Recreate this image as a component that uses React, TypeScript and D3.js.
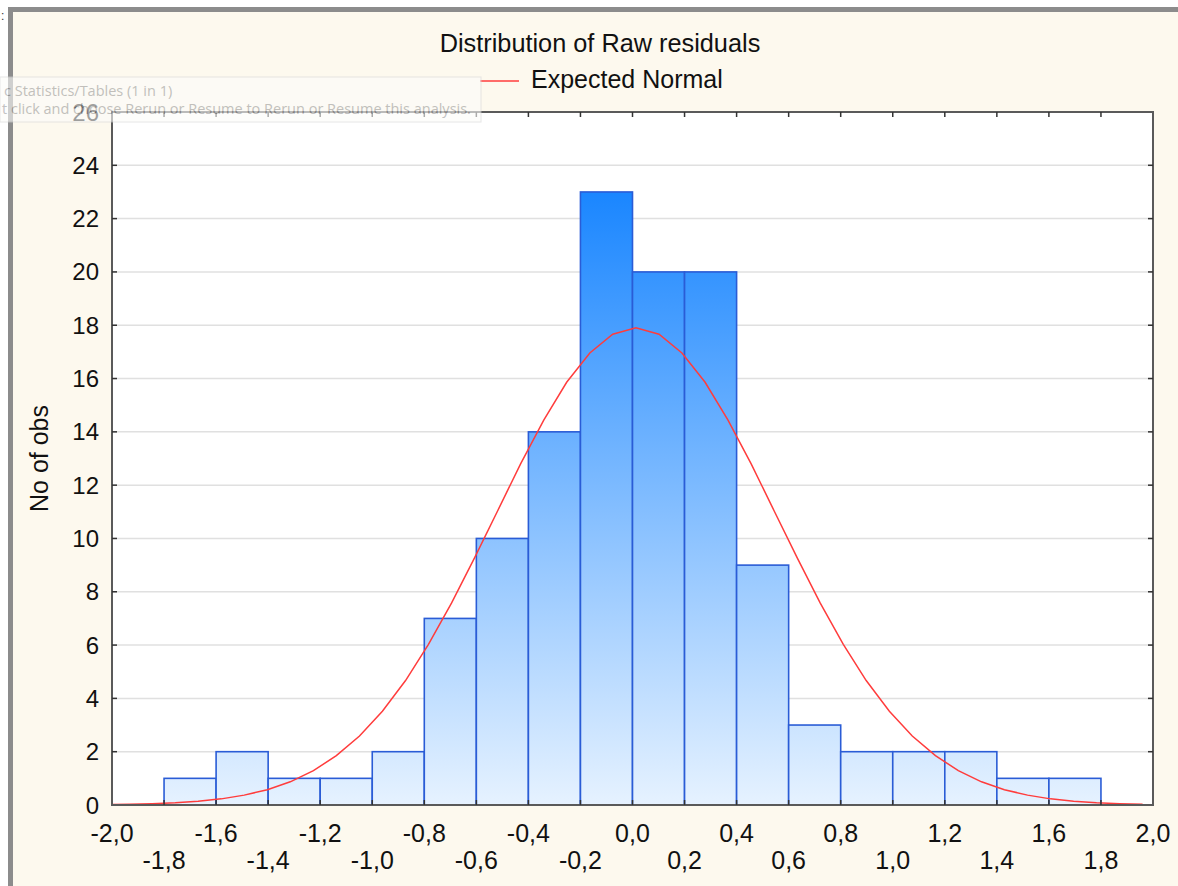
import React from "react";
import * as d3 from "d3";

// histogram bins (lower edge) and counts
const binStarts = [-1.8, -1.6, -1.4, -1.2, -1.0, -0.8, -0.6, -0.4, -0.2, 0.0, 0.2, 0.4, 0.6, 0.8, 1.0, 1.2, 1.4, 1.6];
const binCounts = [1, 2, 1, 1, 2, 7, 10, 14, 23, 20, 20, 9, 3, 2, 2, 2, 1, 1];
const binWidth = 0.2;

// expected normal curve
const normalX = [-2.0, -1.934, -1.846, -1.757, -1.669, -1.58, -1.492, -1.403, -1.315, -1.226, -1.138, -1.049, -0.961, -0.872, -0.784, -0.695, -0.607, -0.518, -0.43, -0.341, -0.253, -0.164, -0.076, 0.013, 0.102, 0.19, 0.279, 0.367, 0.456, 0.544, 0.633, 0.721, 0.81, 0.898, 0.987, 1.075, 1.164, 1.252, 1.341, 1.429, 1.518, 1.606, 1.695, 1.783, 1.872, 1.96];
const normalY = [0.015, 0.027, 0.048, 0.083, 0.14, 0.23, 0.37, 0.575, 0.87, 1.29, 1.85, 2.59, 3.52, 4.67, 6.03, 7.58, 9.27, 11.04, 12.8, 14.44, 15.86, 16.96, 17.66, 17.9, 17.66, 16.96, 15.86, 14.44, 12.8, 11.04, 9.27, 7.58, 6.03, 4.67, 3.52, 2.59, 1.85, 1.29, 0.87, 0.575, 0.37, 0.23, 0.14, 0.083, 0.048, 0.027];

const xTicks = [-2.0, -1.8, -1.6, -1.4, -1.2, -1.0, -0.8, -0.6, -0.4, -0.2, 0.0, 0.2, 0.4, 0.6, 0.8, 1.0, 1.2, 1.4, 1.6, 1.8, 2.0];
const yTicks = [0, 2, 4, 6, 8, 10, 12, 14, 16, 18, 20, 22, 24, 26];

const title = "Distribution of Raw residuals";
const legendLabel = "Expected Normal";
const yLabel = "No of obs";

export default function App() {
  const svgRef = React.useRef(null);
  const width = 1178;
  const height = 886;
  const margin = { left: 112, right: 25, top: 112, bottom: 81 };
  const font = "'Liberation Sans', Arial, sans-serif";

  React.useEffect(() => {
    const x = d3.scaleLinear().domain([-2, 2]).range([margin.left, width - margin.right]);
    const y = d3.scaleLinear().domain([0, 26]).range([height - margin.bottom, margin.top]);

    const svg = d3.select(svgRef.current);
    svg.selectAll("*").remove();

    // window background + frame
    svg.append("rect").attr("width", width).attr("height", height).attr("fill", "#ffffff");
    svg.append("rect").attr("x", 8).attr("y", 8).attr("width", width - 8).attr("height", height - 8).attr("fill", "#fdf9ee");
    svg.append("rect").attr("x", 8).attr("y", 7).attr("width", width - 8).attr("height", 5).attr("fill", "#8c8c8c");
    svg.append("rect").attr("x", 8).attr("y", 7).attr("width", 5).attr("height", height - 7).attr("fill", "#8c8c8c");
    svg.append("text").attr("x", 1).attr("y", 20).attr("font-family", font).attr("font-size", 12).attr("fill", "#333").text(":");

    const defs = svg.append("defs");
    const grad = defs.append("linearGradient")
      .attr("id", "barGrad")
      .attr("gradientUnits", "userSpaceOnUse")
      .attr("x1", 0).attr("x2", 0)
      .attr("y1", y(0)).attr("y2", y(23));
    grad.append("stop").attr("offset", "0%").attr("stop-color", "#e6f2ff");
    grad.append("stop").attr("offset", "100%").attr("stop-color", "#1a86ff");

    // plot area
    svg.append("rect")
      .attr("x", x(-2)).attr("y", y(26))
      .attr("width", x(2) - x(-2)).attr("height", y(0) - y(26))
      .attr("fill", "#ffffff");

    // grid
    svg.append("g")
      .selectAll("line")
      .data(yTicks.slice(1, -1))
      .enter()
      .append("line")
      .attr("x1", x(-2)).attr("x2", x(2))
      .attr("y1", d => y(d)).attr("y2", d => y(d))
      .attr("stroke", "#e0e0e0")
      .attr("stroke-width", 1.5);

    // bars
    svg.append("g")
      .selectAll("rect")
      .data(binStarts)
      .enter()
      .append("rect")
      .attr("x", d => x(d))
      .attr("y", (d, i) => y(binCounts[i]))
      .attr("width", d => x(d + binWidth) - x(d))
      .attr("height", (d, i) => y(0) - y(binCounts[i]))
      .attr("fill", "url(#barGrad)")
      .attr("stroke", "#2a5cd6")
      .attr("stroke-width", 1.6);

    // expected normal
    const line = d3.line()
      .x((d, i) => x(normalX[i]))
      .y(d => y(d));
    svg.append("path")
      .datum(normalY)
      .attr("d", line)
      .attr("fill", "none")
      .attr("stroke", "#ff3c3c")
      .attr("stroke-width", 1.5);

    // frame
    svg.append("rect")
      .attr("x", x(-2)).attr("y", y(26))
      .attr("width", x(2) - x(-2)).attr("height", y(0) - y(26))
      .attr("fill", "none")
      .attr("stroke", "#5a5a5a")
      .attr("stroke-width", 2);

    // inner ticks
    const ticks = svg.append("g").attr("stroke", "#333").attr("stroke-width", 1.5);
    xTicks.slice(1, -1).forEach(t => {
      ticks.append("line").attr("x1", x(t)).attr("x2", x(t)).attr("y1", y(0)).attr("y2", y(0) - 5);
      ticks.append("line").attr("x1", x(t)).attr("x2", x(t)).attr("y1", y(26)).attr("y2", y(26) + 5);
    });
    yTicks.slice(1, -1).forEach(t => {
      ticks.append("line").attr("x1", x(-2)).attr("x2", x(-2) + 5).attr("y1", y(t)).attr("y2", y(t));
      ticks.append("line").attr("x1", x(2)).attr("x2", x(2) - 5).attr("y1", y(t)).attr("y2", y(t));
    });

    // x labels, staggered in two rows
    svg.append("g")
      .selectAll("text")
      .data(xTicks)
      .enter()
      .append("text")
      .attr("x", d => x(d))
      .attr("y", (d, i) => (i % 2 === 0 ? 842 : 869))
      .attr("text-anchor", "middle")
      .attr("font-family", font)
      .attr("font-size", 25)
      .attr("fill", "#111")
      .text(d => d3.format(".1f")(d).replace("−", "-").replace(".", ","));

    // y labels
    svg.append("g")
      .selectAll("text")
      .data(yTicks)
      .enter()
      .append("text")
      .attr("x", x(-2) - 13)
      .attr("y", d => y(d) + 8.5)
      .attr("text-anchor", "end")
      .attr("font-family", font)
      .attr("font-size", 24)
      .attr("fill", "#111")
      .text(d => d);

    svg.append("text")
      .attr("transform", `translate(48, ${(y(0) + y(26)) / 2}) rotate(-90)`)
      .attr("text-anchor", "middle")
      .attr("font-family", font)
      .attr("font-size", 25)
      .attr("fill", "#111")
      .text(yLabel);

    // title + legend
    svg.append("text")
      .attr("x", 600).attr("y", 52)
      .attr("text-anchor", "middle")
      .attr("font-family", font)
      .attr("font-size", 25.3)
      .attr("fill", "#111")
      .text(title);
    svg.append("line")
      .attr("x1", 480).attr("x2", 519).attr("y1", 81).attr("y2", 81)
      .attr("stroke", "#ff3c3c").attr("stroke-width", 1.5);
    svg.append("text")
      .attr("x", 531).attr("y", 88)
      .attr("font-family", font)
      .attr("font-size", 25)
      .attr("fill", "#111")
      .text(legendLabel);

    // fading tooltip left over from the app
    const tip = svg.append("g").attr("opacity", 0.6);
    tip.append("rect")
      .attr("x", 0).attr("y", 77).attr("width", 481).attr("height", 45)
      .attr("fill", "#fcfcfa").attr("stroke", "#d8d8d8");
    tip.append("text")
      .attr("x", 4).attr("y", 96)
      .attr("font-family", "'Open Sans', sans-serif")
      .attr("font-size", 14.5)
      .attr("fill", "#9a9a9a")
      .text("c Statistics/Tables (1 in 1)");
    tip.append("text")
      .attr("x", 2).attr("y", 114)
      .attr("font-family", "'Open Sans', sans-serif")
      .attr("font-size", 14.5)
      .attr("fill", "#9a9a9a")
      .text("t click and choose Rerun or Resume to Rerun or Resume this analysis.");
  }, []);

  return (
    <svg
      ref={svgRef}
      width={width}
      height={height}
      style={{ position: "absolute", left: 0, top: 0 }}
    />
  );
}
